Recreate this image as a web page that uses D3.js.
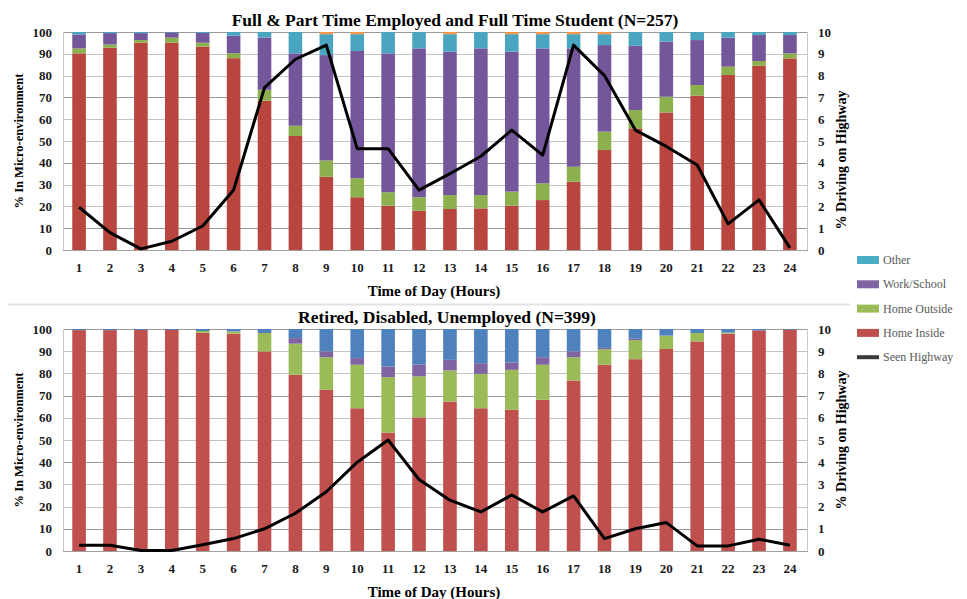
<!DOCTYPE html>
<html>
<head>
<meta charset="utf-8">
<script src="https://cdn.jsdelivr.net/npm/d3@7"></script>
<style>
  body { margin: 0; background: #fff; }
  svg text { font-family: "Liberation Serif", "Times New Roman", serif; }
</style>
</head>
<body>
<div id="chart"></div>
<script>
let w = 967;
let h = 599;

// hours on the x axis
let hours = [1,2,3,4,5,6,7,8,9,10,11,12,13,14,15,16,17,18,19,20,21,22,23,24];
let pctTicks = [0,10,20,30,40,50,60,70,80,90,100];
let hwyTicks = [0,1,2,3,4,5,6,7,8,9,10];

// top panel: employed / students
let topHomeInside  = [90.2,92.8,95.1,95.1,93.3,88,68.5,52.3,33.6,24.2,20.3,18,18.8,19.1,20.3,22.9,31.3,45.9,55.8,63.1,70.8,80.3,84.5,87.9];
let topHomeOutside = [2.3,1.5,1.2,2.3,1.8,2.3,5,4.7,7.5,8.7,6.2,6.2,6.4,6.1,6.5,7.7,6.9,8.4,8.4,7.2,4.9,3.8,2.2,2.3];
let topWorkSchool  = [6.4,5.2,3.2,2.4,4.5,8,24,33.2,48.3,58.4,63.7,68.3,65.8,67.3,64.2,61.9,54.3,39.7,29.5,25.3,20.6,13.3,11.9,8.4];
let topOther       = [1.1,0.5,0.5,0.2,0.4,1.7,2.5,9.8,9.6,7.7,9.8,7.5,8,7.5,8,6.5,6.5,5,6.3,4.4,3.7,2.6,1.4,1.4];
let topUnlisted    = [0,0,0,0,0,0,0,0,1,1,0,0,1,0,1,1,1,1,0,0,0,0,0,0];
let topHighway     = [1.96,0.8,0.05,0.4,1.1,2.75,7.45,8.75,9.4,4.65,4.65,2.75,3.5,4.3,5.5,4.35,9.4,8.0,5.5,4.75,3.9,1.2,2.3,0.1];

// bottom panel: retired / disabled / unemployed
let botHomeInside  = [99.5,99.5,99.6,99.6,98.3,97.9,89.9,79.4,72.6,64.3,53.3,60.2,67.3,64.3,63.6,68.1,76.8,83.9,86.4,91,94.4,97.9,99.4,99.7];
let botHomeOutside = [0,0,0,0,0.8,1,8.3,14,14.7,19.6,25,18.5,14,15.5,18,15.8,10.5,7,8.6,6,3.8,0.5,0,0];
let botWorkSchool  = [0,0,0,0,0,0,0,2.5,2.6,3,4.8,5.3,4.8,4.8,3.3,3.4,2.6,0.6,0.6,0,0,0,0,0];
let botOther       = [0.5,0.5,0.4,0.4,0.9,1.1,1.8,4.1,10.1,13.1,16.9,16,13.9,15.4,15.1,12.7,10.1,8.5,4.4,3,1.8,1.6,0.6,0.3];
let botHighway     = [0.26,0.26,0.02,0.02,0.28,0.56,1.0,1.7,2.67,4.0,5.0,3.22,2.29,1.76,2.52,1.76,2.48,0.56,1.0,1.28,0.23,0.23,0.53,0.26];

let legendNames  = ['Other', 'Work/School', 'Home Outside', 'Home Inside', 'Seen Highway'];
let legendColors = ['#4bacc6', '#8064a2', '#9bbb59', '#c0504d', '#3a3a3a'];

let svg = d3.select('#chart').append('svg').attr('width', w).attr('height', h);

let x = d3.scaleBand().domain(hours).range([63, 806]).paddingInner(0.56).paddingOuter(0.3);

// separator between the two charts
svg.append('line').attr('x1', 8).attr('x2', 850).attr('y1', 304.5).attr('y2', 304.5)
    .attr('stroke', '#e3e3e3').attr('stroke-width', 2);

function drawPanel(p) {
    let y  = d3.scaleLinear().domain([0, 100]).range([p.bottom, p.top]);
    let y2 = d3.scaleLinear().domain([0, 10]).range([p.bottom, p.top]);
    let g = svg.append('g');

    // gridlines
    g.append('g').selectAll('line').data(pctTicks).join('line')
        .attr('x1', 63).attr('x2', 808)
        .attr('y1', d => Math.round(y(d)) + 0.5).attr('y2', d => Math.round(y(d)) + 0.5)
        .attr('stroke', (d, i) => i % 3 == 1 ? '#9a9a9a' : '#c4c4c4');

    // stacked bars
    let keys = p.series.map((s, i) => i);
    let rows = hours.map((hr, j) => {
        let r = {hour: hr};
        p.series.forEach((s, i) => r[i] = s.values[j]);
        return r;
    });
    let stack = d3.stack().keys(keys)(rows);
    g.append('g').selectAll('g').data(stack).join('g')
        .attr('fill', (d, i) => p.series[i].color)
        .selectAll('rect').data(d => d).join('rect')
        .attr('x', d => x(d.data.hour))
        .attr('width', x.bandwidth())
        .attr('y', d => y(d[1]))
        .attr('height', d => Math.max(0, y(d[0]) - y(d[1])));

    // axes lines
    g.append('line').attr('x1', 63.5).attr('x2', 63.5).attr('y1', p.top).attr('y2', p.bottom).attr('stroke', '#c8c8c8');
    g.append('line').attr('x1', 807.5).attr('x2', 807.5).attr('y1', p.top).attr('y2', p.bottom).attr('stroke', '#c8c8c8');
    g.append('line').attr('x1', 63).attr('x2', 808).attr('y1', p.bottom + 0.5).attr('y2', p.bottom + 0.5).attr('stroke', '#a0a0a0');

    let left = g.append('g').attr('transform', 'translate(63,0)')
        .call(d3.axisLeft(y).tickValues(pctTicks).tickSize(0).tickPadding(11));
    let right = g.append('g').attr('transform', 'translate(808,0)')
        .call(d3.axisRight(y2).tickValues(hwyTicks).tickSize(0).tickPadding(10));
    let bottom = g.append('g').attr('transform', 'translate(0,' + p.bottom + ')')
        .call(d3.axisBottom(x).tickSize(0).tickPadding(13));
    [left, right, bottom].forEach(a => {
        a.select('.domain').remove();
        a.selectAll('text').attr('font-size', 13).attr('font-weight', 'bold')
            .attr('font-family', '"Liberation Serif", serif').attr('fill', '#1a1a1a');
    });

    // highway line
    let line = d3.line().x((d, i) => x(hours[i]) + x.bandwidth() / 2).y(d => y2(d));
    g.append('path').datum(p.highway).attr('d', line)
        .attr('fill', 'none').attr('stroke', '#000').attr('stroke-width', 3)
        .attr('stroke-linejoin', 'round');

    // titles
    g.append('text').attr('x', p.titleX).attr('y', p.top - 6).attr('text-anchor', 'middle')
        .attr('font-size', 17.5).attr('font-weight', 'bold').text(p.title);
    g.append('text').attr('x', 434).attr('y', p.bottom + 46).attr('text-anchor', 'middle')
        .attr('font-size', 15).attr('font-weight', 'bold').text('Time of Day (Hours)');
    g.append('text').attr('transform', 'translate(23,' + (p.top + p.bottom) / 2 + ') rotate(-90)')
        .attr('text-anchor', 'middle').attr('font-size', 12.5).attr('font-weight', 'bold')
        .text('% In Micro-environment');
    g.append('text').attr('transform', 'translate(846,' + p.rightTitleY + ') rotate(-90)')
        .attr('text-anchor', 'middle').attr('font-size', 14).attr('font-weight', 'bold')
        .text('% Driving on Highway');
}

drawPanel({
    top: 32, bottom: 250, titleX: 455, rightTitleY: 160,
    title: 'Full & Part Time Employed and Full Time Student (N=257)',
    highway: topHighway,
    series: [
        {values: topHomeInside,  color: '#b8463f'},
        {values: topHomeOutside, color: '#8cb04e'},
        {values: topWorkSchool,  color: '#74579b'},
        {values: topOther,       color: '#4aa6c0'},
        {values: topUnlisted,    color: '#f79646'}
    ]
});

drawPanel({
    top: 329, bottom: 551, titleX: 447, rightTitleY: 440,
    title: 'Retired, Disabled, Unemployed (N=399)',
    highway: botHighway,
    series: [
        {values: botHomeInside,  color: '#c0504d'},
        {values: botHomeOutside, color: '#9bbb59'},
        {values: botWorkSchool,  color: '#8064a2'},
        {values: botOther,       color: '#4f81bd'}
    ]
});

// legend
let lg = svg.append('g').attr('transform', 'translate(857,260)');
let items = lg.selectAll('g').data(legendNames).join('g')
    .attr('transform', (d, i) => 'translate(0,' + (i * 24.3) + ')');
items.append('rect').attr('x', 0).attr('y', d => -4).attr('width', 22)
    .attr('height', (d, i) => i == 4 ? 4 : 8)
    .attr('transform', (d, i) => i == 4 ? 'translate(0,2)' : null)
    .attr('fill', (d, i) => legendColors[i]);
items.append('text').attr('x', 26).attr('y', 4)
    .attr('font-family', '"Liberation Sans", sans-serif').attr('font-size', 12)
    .attr('fill', '#595959').text(d => d);
</script>
</body>
</html>
